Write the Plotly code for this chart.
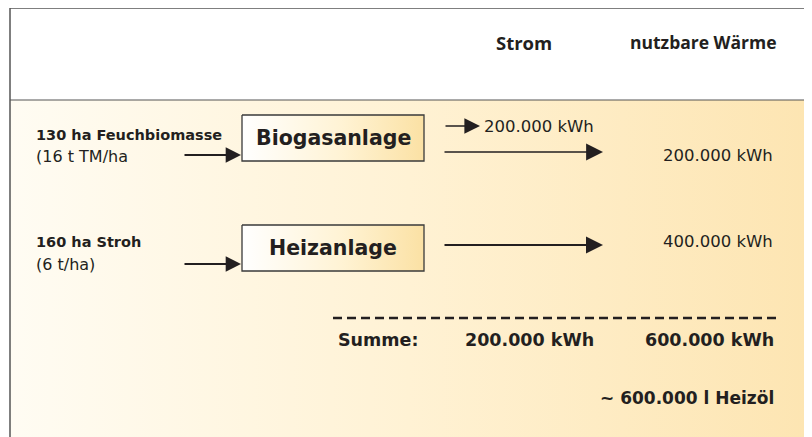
import plotly.graph_objects as go

W, H = 812, 437
OFF = 8  # browser body margin
FONT = "DejaVu Sans"
HFONT = "Open Sans"
DARK = "#231f20"

# ---- data ----
header_labels = ["Strom", "nutzbare Wärme"]
sources = ["130 ha Feuchbiomasse", "160 ha Stroh"]
source_details = ["(16 t TM/ha", "(6 t/ha)"]
plants = ["Biogasanlage", "Heizanlage"]
strom_kwh = ["200.000 kWh", None]
waerme_kwh = ["200.000 kWh", "400.000 kWh"]
sum_label = "Summe:"
sum_strom = "200.000 kWh"
sum_waerme = "600.000 kWh"
oil_equiv = "~ 600.000 l Heizöl"

fig = go.Figure()

# background gradient panel
fig.add_trace(go.Scatter(
    x=[10, 808, 808, 10, 10], y=[100, 100, H + 5, H + 5, 100],
    mode="lines", line=dict(width=0), fill="toself",
    fillgradient=dict(type="horizontal",
                      colorscale=[[0, "#fffcf3"], [0.5, "#fff2d4"], [1, "#fde5b2"]]),
    hoverinfo="skip", showlegend=False))

# plant boxes with gradient
box_y = [(115, 161), (225, 271)]
for (y0, y1) in box_y:
    fig.add_shape(type="rect", x0=244, x1=426, y0=y0 + 2, y1=y1 + 2,
                  line=dict(width=0), fillcolor="rgba(120,100,70,0.3)", layer="below")
    fig.add_trace(go.Scatter(
        x=[242, 424, 424, 242, 242], y=[y0, y0, y1, y1, y0],
        mode="lines", line=dict(width=1.3, color="#3a3a3a"), fill="toself",
        fillgradient=dict(type="horizontal",
                          colorscale=[[0, "#ffffff"], [0.55, "#fff3d4"], [1, "#fbe1a4"]]),
        hoverinfo="skip", showlegend=False))

# frame lines
fig.add_shape(type="line", x0=10, x1=10, y0=8, y1=H + 5, line=dict(color="#555555", width=1.5))
fig.add_shape(type="line", x0=808, x1=808, y0=8, y1=H + 5, line=dict(color="#5a5048", width=2.2))
fig.add_shape(type="line", x0=10, x1=808, y0=8, y1=8, line=dict(color="#555555", width=1.5))
fig.add_shape(type="line", x0=10, x1=808, y0=100, y1=100, line=dict(color="#555555", width=1.2))

# dashed sum line
fig.add_shape(type="line", x0=333, x1=778, y0=318, y1=318,
              line=dict(color=DARK, width=2.3, dash="9px,5px"))

ann = []
def txt(x, y, s, size, bold=False, anchor="left", family=FONT):
    ann.append(dict(x=x, y=y, xref="x", yref="y", text=f"<b>{s}</b>" if bold else s,
                    showarrow=False, xanchor=anchor, yanchor="middle",
                    font=dict(family=family, size=size, color=DARK)))

def arrow(x0, x1, y, width=1.5, size=1.0):
    ann.append(dict(x=x1, y=y, ax=x0, ay=y, xref="x", yref="y", axref="x", ayref="y",
                    text="", showarrow=True, arrowhead=2, arrowsize=size,
                    arrowwidth=width, arrowcolor=DARK, standoff=0, startstandoff=0))

# header
txt(524, 42, header_labels[0], 18.5, True, "center", HFONT)
txt(703, 42, header_labels[1], 17.5, True, "center", HFONT)

src_y = [(135, 156), (242, 264)]
in_arrow_y = [155, 264]
out_arrow_y = [152, 245]
waerme_y = [155, 241]
for i in range(2):
    txt(34, src_y[i][0], sources[i], 14.5, True)
    txt(34, src_y[i][1], source_details[i], 16)
    arrow(183, 241, in_arrow_y[i], 1.8, 1.7)
    txt(333, (box_y[i][0] + box_y[i][1]) / 2, plants[i], 20.5, True, "center")
    arrow(443, 603, out_arrow_y[i], 1.3 if i == 0 else 2.0, 2.6 if i == 0 else 1.7)
    txt(775, waerme_y[i], waerme_kwh[i], 16.5, False, "right")
    if strom_kwh[i]:
        arrow(444, 480, 126, 1.3, 2.4)
        txt(482, 126, strom_kwh[i], 16.5, False, "left")

txt(336, 340, sum_label, 17.5, True)
txt(596, 340, sum_strom, 17.5, True, "right")
txt(776, 340, sum_waerme, 17.5, True, "right")
txt(776, 398, oil_equiv, 17, True, "right")

fig.update_layout(
    width=W - OFF, height=H - OFF, margin=dict(l=0, r=0, t=0, b=0),
    paper_bgcolor="white", plot_bgcolor="white",
    xaxis=dict(range=[OFF, W], visible=False, fixedrange=True),
    yaxis=dict(range=[H, OFF], visible=False, fixedrange=True),
    annotations=ann, showlegend=False)

fig.write_html("out.html")
